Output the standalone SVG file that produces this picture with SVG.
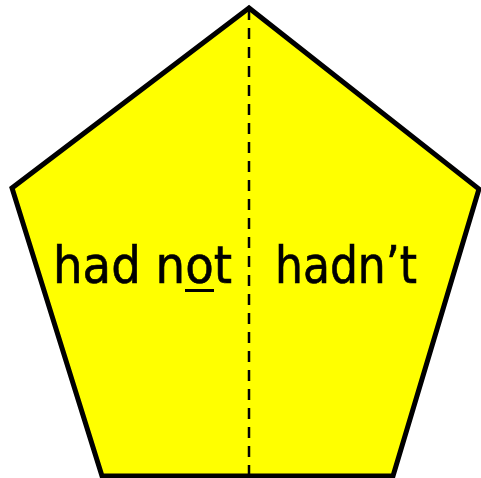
<svg xmlns="http://www.w3.org/2000/svg" width="481" height="478" viewBox="0 0 481 478">
<style>
.t{font-family:"DejaVu Sans Condensed","DejaVu Sans",sans-serif;font-size:51px;fill:#000;stroke:#000;stroke-width:0.6}
</style>
<rect width="481" height="478" fill="#fff"/>
<g id="pentagon">
<polygon points="249,8 12,188 102,476 393,476 479,189" fill="#ffff00" stroke="#000" stroke-width="5" stroke-linejoin="miter"/>
</g>
<g id="divider">
<line x1="249" y1="9" x2="249" y2="474" stroke="#000" stroke-width="2.5" stroke-dasharray="11,8"/>
</g>
<g id="left-text">
<text class="t" x="53" y="283" textLength="179" lengthAdjust="spacingAndGlyphs">had not</text>
<rect x="185" y="289" width="29" height="3" fill="#000"/>
</g>
<g id="right-text">
<text class="t" x="275" y="283" textLength="142" lengthAdjust="spacingAndGlyphs">hadn’t</text>
</g>
</svg>
